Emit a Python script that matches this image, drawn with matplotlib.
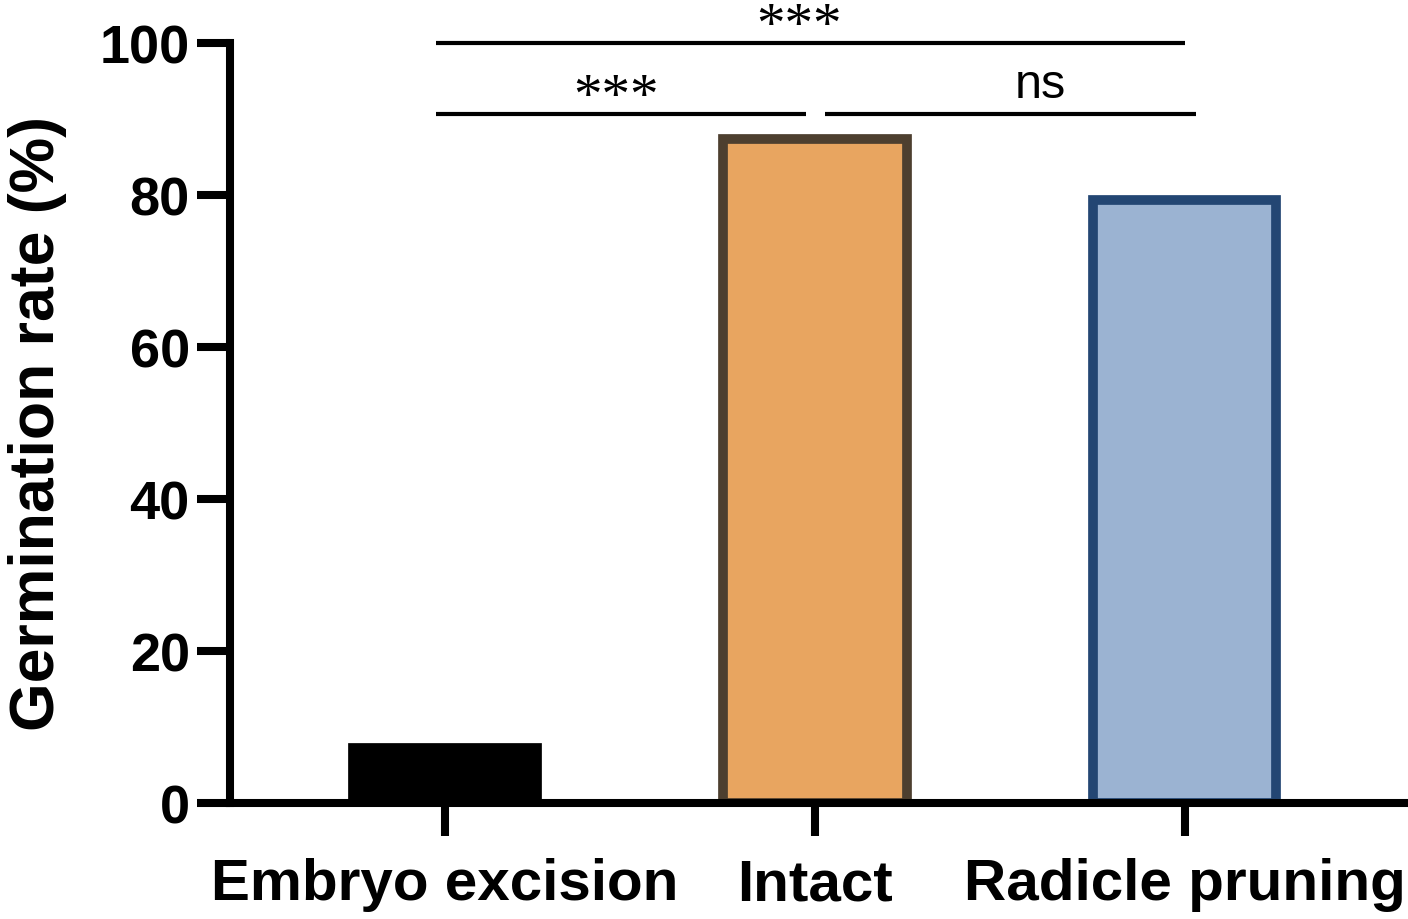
import numpy as np
import matplotlib.pyplot as plt

plt.rcParams['font.family'] = ['Liberation Sans', 'DejaVu Sans']

# Data
groups = ['Embryo excision', 'Intact', 'Radicle pruning']
germination = [7.2, 87.4, 79.3]
fill_colors = ['#000000', '#E8A560', '#9BB3D2']
edge_colors = ['#000000', '#4D3F2F', '#234673']

# significance brackets: (start group, end group, label, level)
comparisons = [(0, 2, '***', 100.0), (0, 1, '***', 90.6), (1, 2, 'ns', 90.6)]

fig = plt.figure(figsize=(14.08, 9.2), dpi=100)
ax = fig.add_axes([0.1634, 0.1261, 0.9979 - 0.1634, 0.9522 - 0.1261])

x = np.arange(len(groups))
ax.bar(x, germination, width=0.495, color=fill_colors, edgecolor=edge_colors,
       linewidth=7, zorder=2)

ax.set_xlim(-0.581, 2.595)
ax.set_ylim(0, 100)
ax.set_yticks(np.arange(0, 101, 20))
ax.set_xticks(x)
ax.set_xticklabels(groups)

for side in ['top', 'right']:
    ax.spines[side].set_visible(False)
for side in ['left', 'bottom']:
    ax.spines[side].set_linewidth(5.8)
    ax.spines[side].set_zorder(3)

ax.tick_params(axis='both', length=24, width=5.8, color='black')
ax.tick_params(axis='y', pad=5, labelsize=39)
ax.tick_params(axis='x', pad=15, labelsize=42)
for lab in ax.get_xticklabels() + ax.get_yticklabels():
    lab.set_fontweight('bold')

ax.set_ylabel('Germination rate (%)', fontsize=45, fontweight='bold', va='center')
ax.yaxis.set_label_coords(-0.164, 0.5)

# brackets
offsets = {(0, 2): (-0.024, 0.0), (0, 1): (-0.024, -0.024), (1, 2): (0.027, 0.03)}
label_shift = {(0, 2): -0.03, (0, 1): -0.015, (1, 2): 0.08}
for a, b, label, level in comparisons:
    da, db = offsets[(a, b)]
    x0, x1 = x[a] + da, x[b] + db
    ax.plot([x0, x1], [level, level], color='black', lw=3, clip_on=False,
            solid_capstyle='butt')
    xm = (x0 + x1) / 2 + label_shift[(a, b)]
    if label == 'ns':
        ax.text(xm, level + 1.0, label, ha='center', va='bottom',
                fontsize=35, clip_on=False)
    else:
        ax.text(xm, level + 0.3, label, ha='center', va='baseline',
                fontsize=41, family='Liberation Serif', clip_on=False)

fig.savefig('out.png', dpi=100)
